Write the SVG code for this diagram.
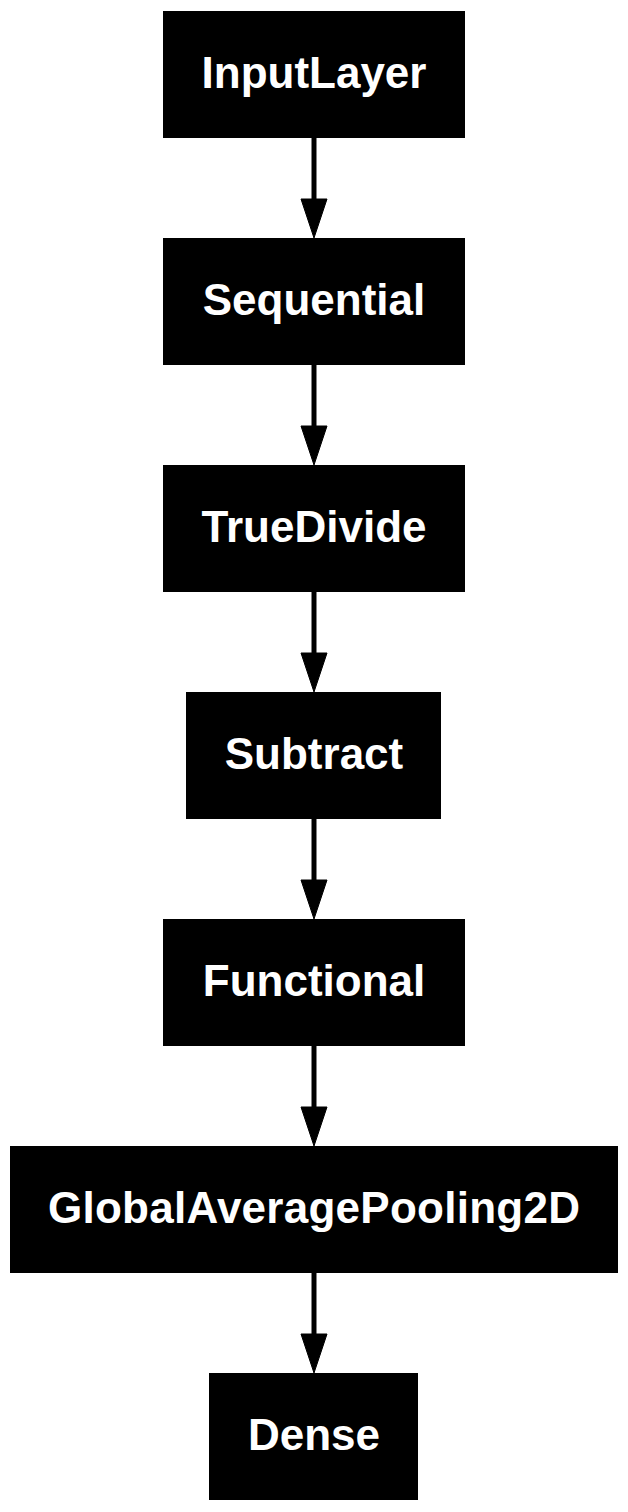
<svg xmlns="http://www.w3.org/2000/svg" width="628" height="1512" viewBox="0 0 628 1512">
<style>
.box{fill:#000;stroke:#000;stroke-width:1}
.lbl{fill:#fff;font-family:"Liberation Sans",Arial,sans-serif;font-weight:bold;font-size:44px;text-anchor:middle}
.edge{stroke:#000;stroke-width:5;fill:none}
.head{fill:#000;stroke:#000;stroke-width:1}
</style>
<rect width="628" height="1512" fill="#fff"/>
<g id="connectors">
<line class="edge" x1="314" y1="138" x2="314" y2="200"/>
<polygon class="head" points="301,199 327,199 314,238"/>
<line class="edge" x1="314" y1="365" x2="314" y2="427"/>
<polygon class="head" points="301,426 327,426 314,465"/>
<line class="edge" x1="314" y1="592" x2="314" y2="654"/>
<polygon class="head" points="301,653 327,653 314,692"/>
<line class="edge" x1="314" y1="819" x2="314" y2="881"/>
<polygon class="head" points="301,880 327,880 314,919"/>
<line class="edge" x1="314" y1="1046" x2="314" y2="1108"/>
<polygon class="head" points="301,1107 327,1107 314,1146"/>
<line class="edge" x1="314" y1="1273" x2="314" y2="1335"/>
<polygon class="head" points="301,1334 327,1334 314,1373"/>
</g>
<g id="node-inputlayer"><rect class="box" x="163.5" y="11.5" width="301" height="126"/><text class="lbl" x="314" y="88">InputLayer</text></g>
<g id="node-sequential"><rect class="box" x="163.5" y="238.5" width="301" height="126"/><text class="lbl" x="314" y="315">Sequential</text></g>
<g id="node-truedivide"><rect class="box" x="163.5" y="465.5" width="301" height="126"/><text class="lbl" x="314" y="542">TrueDivide</text></g>
<g id="node-subtract"><rect class="box" x="186.5" y="692.5" width="254" height="126"/><text class="lbl" x="314" y="769">Subtract</text></g>
<g id="node-functional"><rect class="box" x="163.5" y="919.5" width="301" height="126"/><text class="lbl" x="314" y="996">Functional</text></g>
<g id="node-gap"><rect class="box" x="10.5" y="1146.5" width="607" height="126"/><text class="lbl" x="314" y="1223" textLength="532" lengthAdjust="spacing">GlobalAveragePooling2D</text></g>
<g id="node-dense"><rect class="box" x="209.5" y="1373.5" width="208" height="126"/><text class="lbl" x="314" y="1450">Dense</text></g>
</svg>
